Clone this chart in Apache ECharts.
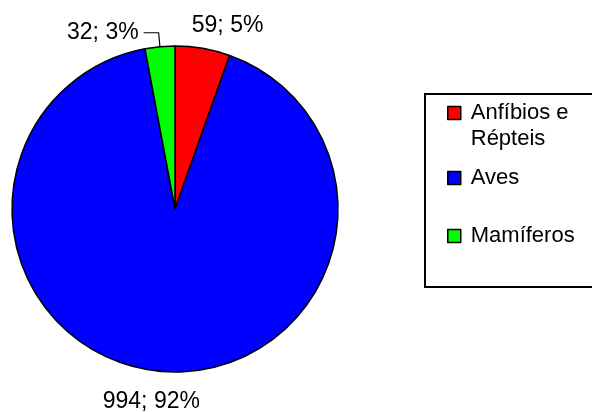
<!DOCTYPE html>
<html>
<head>
<meta charset="utf-8">
<script src="https://cdn.jsdelivr.net/npm/echarts@6/dist/echarts.min.js"></script>
<style>
  html, body { margin: 0; padding: 0; background: #fff; }
  #chart { width: 592px; height: 412px; }
</style>
</head>
<body>
<div id="chart"></div>
<script>
// Species counts per animal group
const groups = ['Anfíbios e Répteis', 'Aves', 'Mamíferos'];
const counts = [59, 994, 32];
const groupColors = ['#FF0000', '#0000FF', '#00FF00'];

// Outside-label tuning per slice: leader length, second segment, nudge
const labelLength = [24, 30, 14];
const labelLength2 = [0, 0, 15];
const labelShowLine = [false, false, true];
const labelNudge = [[-20, 1], [45, 0], [0, 0]];

const FONT = '"Liberation Sans", Arial, sans-serif';
const total = counts.reduce((a, b) => a + b, 0);

const pieData = groups.map((name, i) => ({
  name: name,
  value: counts[i],
  itemStyle: { color: groupColors[i] },
  label: { show: true },
  labelLine: { show: labelShowLine[i], length: labelLength[i], length2: labelLength2[i] }
}));

// The long group name wraps onto a second line; a leading empty line keeps
// its first line level with the legend square.
function legendText(n) {
  return n === 'Anfíbios e Répteis' ? '\nAnfíbios e\nRépteis' : n;
}

function legendBlock(name, top) {
  return {
    data: [name],
    orient: 'vertical',
    left: 447,
    top: top,
    padding: 0,
    icon: 'rect',
    itemWidth: 13,
    itemHeight: 13,
    itemStyle: { borderColor: '#000', borderWidth: 1.5 },
    selectedMode: false,
    formatter: legendText,
    textStyle: {
      fontFamily: FONT,
      fontSize: 22,
      color: '#000',
      lineHeight: 26,
      padding: [0, 0, 0, 5]
    }
  };
}

const chart = echarts.init(document.getElementById('chart'), null, { renderer: 'canvas' });
chart.setOption({
  backgroundColor: '#fff',
  animation: false,
  legend: [
    legendBlock(groups[0], 74),
    legendBlock(groups[1], 165),
    legendBlock(groups[2], 223)
  ],
  graphic: [{
    type: 'rect',
    shape: { x: 425, y: 94, width: 180, height: 193 },
    style: { fill: 'none', stroke: '#000', lineWidth: 2 },
    silent: true
  }],
  series: [{
    type: 'pie',
    center: [175, 209],
    radius: 163,
    startAngle: 90,
    clockwise: true,
    avoidLabelOverlap: false,
    data: pieData,
    itemStyle: { borderColor: '#000', borderWidth: 1.5 },
    label: {
      position: 'outside',
      fontFamily: FONT,
      fontSize: 23,
      color: '#000',
      distanceToLabelLine: 5,
      formatter: p => p.value + '; ' + Math.round(p.value / total * 100) + '%'
    },
    labelLine: {
      lineStyle: { color: '#000', width: 1.2 },
      smooth: false
    },
    emphasis: { disabled: true },
    labelLayout: p => ({ dx: labelNudge[p.dataIndex][0], dy: labelNudge[p.dataIndex][1] })
  }]
});
</script>
</body>
</html>
